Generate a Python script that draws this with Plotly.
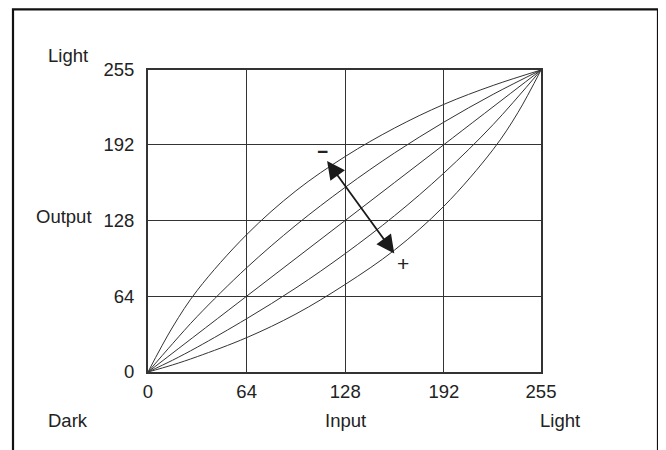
import plotly.graph_objects as go

# ---- data ----
tick_vals = [0, 64, 128, 192, 255]
tick_text = ["0", "64", "128", "192", "255"]

c1_x = [0, 16, 32, 64, 96, 128, 160, 192, 224, 255]
c1_y = [0, 38, 69, 116, 153, 182, 206, 226, 242, 255]

c2_x = [0, 16, 32, 64, 96, 128, 160, 192, 224, 255]
c2_y = [0, 24, 47, 88, 124, 156, 185, 211, 234.5, 255]

c3_x = [0, 64, 128, 192, 255]
c3_y = [0, 64, 128, 192, 255]

c4_x = [0, 16, 32, 64, 96, 128, 160, 192, 224, 255]
c4_y = [0, 10, 21, 45, 71, 100, 132, 168, 209, 255]

c5_x = [0, 16, 32, 64, 96, 128, 160, 192, 224, 240, 255]
c5_y = [0, 6, 13, 29, 49, 74, 103, 140, 188, 219, 255]

arrow_minus_end = (115.5, 179.5)
arrow_plus_end = (159.8, 100.1)
minus_pos = (112.9, 186.6)
plus_pos = (165.5, 91.2)

FONT = "Liberation Sans, Arial, Helvetica, sans-serif"
INK = "#222222"
LINE = "#333333"

fig = go.Figure()
for xs, ys in [(c1_x, c1_y), (c2_x, c2_y), (c3_x, c3_y), (c4_x, c4_y), (c5_x, c5_y)]:
    fig.add_trace(go.Scatter(
        x=xs, y=ys, mode="lines",
        line=dict(color=LINE, width=1, shape="spline", smoothing=1.0),
        hoverinfo="skip", showlegend=False, cliponaxis=False,
    ))

axis_common = dict(
    range=[0, 255], tickmode="array", tickvals=tick_vals, ticktext=tick_text,
    showgrid=True, gridcolor=LINE, gridwidth=1,
    showline=True, linecolor=LINE, linewidth=2, mirror=True,
    zeroline=False, ticks="outside", tickcolor="rgba(0,0,0,0)",
    tickfont=dict(family=FONT, size=18.5, color=INK), fixedrange=True,
)
fig.update_xaxes(**axis_common, ticklen=2)
fig.update_yaxes(**axis_common, ticklen=8)

# double-headed arrow
fig.add_annotation(
    x=arrow_plus_end[0], y=arrow_plus_end[1], xref="x", yref="y",
    ax=arrow_minus_end[0], ay=arrow_minus_end[1], axref="x", ayref="y",
    text="", showarrow=True, arrowside="end+start",
    arrowhead=2, startarrowhead=2, arrowsize=2.0, startarrowsize=2.0,
    arrowwidth=1.8, arrowcolor="#1a1a1a", standoff=0, startstandoff=0,
)
fig.add_annotation(x=minus_pos[0], y=minus_pos[1], xref="x", yref="y",
                   text="<b>−</b>", showarrow=False,
                   font=dict(family=FONT, size=19, color=INK))
fig.add_annotation(x=plus_pos[0], y=plus_pos[1], xref="x", yref="y",
                   text="+", showarrow=False,
                   font=dict(family=FONT, size=21, color=INK))

# page is offset by the 8px body margin, so figure coords = screen - 8
OFF = 8
L, T, W, H = 148 - OFF, 70 - OFF, 393, 302
def px(xp):
    return (xp - OFF - L) / W
def py(yp):
    return (T + H - (yp - OFF)) / H

labels = [("Light", 68, 55), ("Output", 64, 216), ("Dark", 68, 420),
          ("Input", 345, 420), ("Light", 560, 420)]
for txt, xx, yy in labels:
    fig.add_annotation(x=px(xx), y=py(yy), xref="paper", yref="paper",
                       text=txt, showarrow=False, xanchor="center", yanchor="middle",
                       font=dict(family=FONT, size=18.5, color=INK))

# outer frame (open at bottom)
x0, x1 = px(13), px(658)
y_top, y_bot = py(9.3), py(470)
fig.add_shape(type="path", xref="paper", yref="paper",
              path=f"M {x0},{y_bot} L {x0},{y_top} L {x1},{y_top} L {x1},{y_bot}",
              line=dict(color="#111111", width=2.2))

fig.update_layout(
    width=666, height=450,
    margin=dict(l=L, r=666 - L - W, t=T, b=450 - T - H),
    paper_bgcolor="white", plot_bgcolor="white",
    showlegend=False,
)

fig.write_html("out.html")
